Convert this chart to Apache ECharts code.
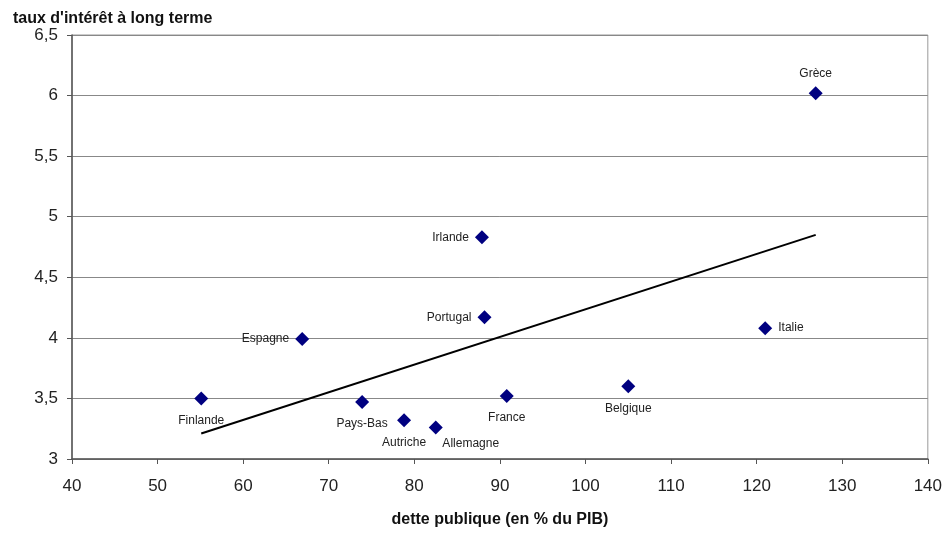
<!DOCTYPE html>
<html>
<head>
<meta charset="utf-8">
<script src="https://cdn.jsdelivr.net/npm/echarts@6/dist/echarts.min.js"></script>
<style>html,body{margin:0;padding:0;background:#fff}#c{width:945px;height:533px}</style>
</head>
<body>
<div id="c"></div>
<script>
const countries = ["Grèce","Irlande","Portugal","Espagne","Italie","Finlande","Pays-Bas","Autriche","Allemagne","France","Belgique"];
const debt = [126.9, 87.9, 88.2, 66.9, 121.0, 55.1, 73.9, 78.8, 82.5, 90.8, 105.0];
const rate = [6.02, 4.83, 4.17, 3.99, 4.08, 3.50, 3.47, 3.32, 3.26, 3.52, 3.60];
const labelPos = ["top","left","left","left","right","bottom","bottom","bottom","bottom","bottom","bottom"];
const trendX = [55.1, 126.9];
const trendY = [3.21, 4.85];

const pts = countries.map((n, i) => {
  const p = { name: n, value: [debt[i], rate[i]], label: { position: labelPos[i] } };
  if (labelPos[i] === "bottom") p.label.distance = 9;
  if (n === "Allemagne") p.label = { position: "bottom", distance: 9, offset: [35, -6] };
  return p;
});

const chart = echarts.init(document.getElementById('c'));
chart.setOption({
  animation: false,
  backgroundColor: '#fff',
  title: {
    text: "taux d'intérêt à long terme",
    left: 8, top: 6,
    textStyle: { fontFamily: 'Liberation Sans', fontWeight: 'bold', fontSize: 16, color: '#111' }
  },
  grid: { left: 72, right: 17, top: 35, bottom: 74, show: true, borderColor: '#999', borderWidth: 1 },
  xAxis: {
    type: 'value', min: 40, max: 140, interval: 10,
    name: 'dette publique (en % du PIB)', nameLocation: 'middle', nameGap: 53,
    nameTextStyle: { fontFamily: 'Liberation Sans', fontWeight: 'bold', fontSize: 16, color: '#111' },
    axisLine: { show: true, lineStyle: { color: '#555', width: 1.5 } },
    axisTick: { show: true, length: 5, lineStyle: { color: '#555' } },
    axisLabel: { fontFamily: 'Liberation Sans', fontSize: 17, color: '#222', margin: 19 },
    splitLine: { show: false }
  },
  yAxis: {
    type: 'value', min: 3, max: 6.5, interval: 0.5,
    axisLine: { show: true, lineStyle: { color: '#555', width: 1.5 } },
    axisTick: { show: true, length: 5, lineStyle: { color: '#555' } },
    axisLabel: { fontFamily: 'Liberation Sans', fontSize: 17, color: '#222', margin: 14,
      formatter: v => String(v).replace('.', ',') },
    splitLine: { show: true, lineStyle: { color: '#888', width: 1 } }
  },
  series: [
    {
      type: 'line',
      data: trendX.map((x, i) => [x, trendY[i]]),
      showSymbol: false, symbol: 'none',
      lineStyle: { color: '#000', width: 2 },
      z: 2
    },
    {
      type: 'scatter',
      data: pts,
      symbol: 'diamond', symbolSize: 14,
      itemStyle: { color: '#000080', opacity: 1 },
      label: {
        show: true, formatter: '{b}', distance: 6,
        fontFamily: 'Liberation Sans', fontSize: 12, color: '#222'
      },
      z: 3
    }
  ]
});
</script>
</body>
</html>
